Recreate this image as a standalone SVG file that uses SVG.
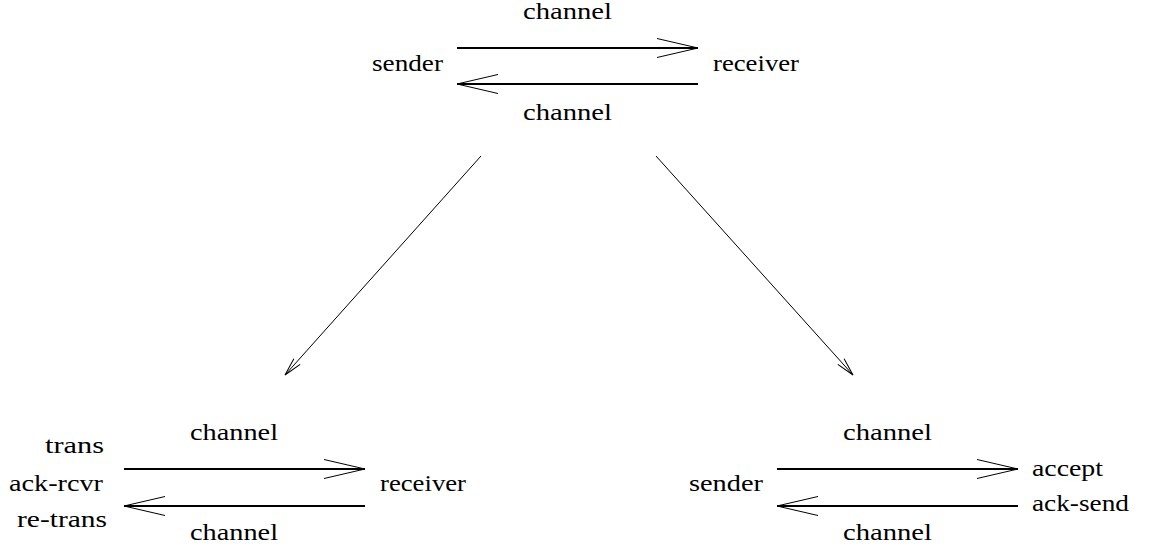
<svg xmlns="http://www.w3.org/2000/svg" width="1156" height="550" viewBox="0 0 1156 550">
<style>
.ch{stroke:#000;stroke-width:2;fill:none}
.dg{stroke:#000;stroke-width:1;fill:none}
</style>
<defs>
<marker id="bigV" markerUnits="userSpaceOnUse" markerWidth="50" markerHeight="24" viewBox="-45 -12 50 24" refX="0" refY="0" orient="auto" overflow="visible">
<path d="M-41,-9.5 L0,0 L-41,9.5" fill="none" stroke="#000" stroke-width="1"/>
</marker>
<marker id="smallV" markerUnits="userSpaceOnUse" markerWidth="24" markerHeight="12" viewBox="-20 -6 24 12" refX="0" refY="0" orient="auto" overflow="visible">
<path d="M-18,-4.2 L0,0 L-18,4.2" fill="none" stroke="#000" stroke-width="1"/>
</marker>
</defs>
<rect width="1156" height="550" fill="#fff"/>
<g font-family="Liberation Serif, serif" font-size="23" fill="#000">
<g id="top-sender"><text x="372" y="71" textLength="71" lengthAdjust="spacingAndGlyphs">sender</text></g>
<g id="top-receiver"><text x="713" y="71" textLength="86" lengthAdjust="spacingAndGlyphs">receiver</text></g>
<g id="bl-trans"><text x="45" y="453" textLength="59" lengthAdjust="spacingAndGlyphs">trans</text></g>
<g id="bl-ack-rcvr"><text x="9" y="491" textLength="94" lengthAdjust="spacingAndGlyphs">ack-rcvr</text></g>
<g id="bl-re-trans"><text x="17" y="527" textLength="90" lengthAdjust="spacingAndGlyphs">re-trans</text></g>
<g id="bl-receiver"><text x="380" y="491" textLength="86" lengthAdjust="spacingAndGlyphs">receiver</text></g>
<g id="br-sender"><text x="689" y="491" textLength="74" lengthAdjust="spacingAndGlyphs">sender</text></g>
<g id="br-accept"><text x="1032" y="476" textLength="71" lengthAdjust="spacingAndGlyphs">accept</text></g>
<g id="br-ack-send"><text x="1032" y="511" textLength="97" lengthAdjust="spacingAndGlyphs">ack-send</text></g>
<g id="connectors">
<line class="ch" x1="457" y1="48" x2="698" y2="48" marker-end="url(#bigV)"/>
<line class="ch" x1="698" y1="84" x2="457" y2="84" marker-end="url(#bigV)"/>
<text x="523" y="19" textLength="89" lengthAdjust="spacingAndGlyphs">channel</text>
<text x="523" y="120" textLength="89" lengthAdjust="spacingAndGlyphs">channel</text>
<line class="dg" x1="481" y1="156" x2="285" y2="375" marker-end="url(#smallV)"/>
<line class="dg" x1="656" y1="156" x2="853" y2="375" marker-end="url(#smallV)"/>
<line class="ch" x1="124" y1="469" x2="365" y2="469" marker-end="url(#bigV)"/>
<line class="ch" x1="365" y1="506" x2="124" y2="506" marker-end="url(#bigV)"/>
<text x="190" y="440" textLength="88" lengthAdjust="spacingAndGlyphs">channel</text>
<text x="190" y="540" textLength="88" lengthAdjust="spacingAndGlyphs">channel</text>
<line class="ch" x1="777" y1="469" x2="1018" y2="469" marker-end="url(#bigV)"/>
<line class="ch" x1="1018" y1="506" x2="777" y2="506" marker-end="url(#bigV)"/>
<text x="843" y="440" textLength="89" lengthAdjust="spacingAndGlyphs">channel</text>
<text x="843" y="540" textLength="89" lengthAdjust="spacingAndGlyphs">channel</text>
</g>
</g>
</svg>
